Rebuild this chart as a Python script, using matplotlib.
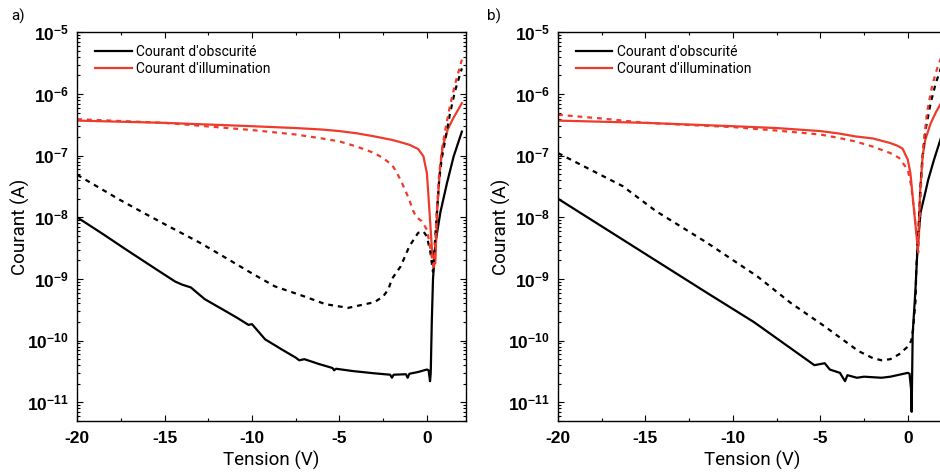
import matplotlib
matplotlib.use("Agg")
import matplotlib.pyplot as plt
from matplotlib.ticker import FixedLocator, FuncFormatter
import numpy as np

# *
# Data
# *
# panel a) - dark current, solid
va_dark   = [-20, -18.5, -17.2, -15.5, -14.4, -14.0, -13.5, -12.7, -11.5, -10.8, -10.2, -10.0, -9.25, -8.3, -7.5, -7.3,
             -7.0, -6.2, -5.4, -5.3, -5.2, -4.2, -3.0, -2.1, -2.0, -1.9,
             -1.2, -1.1, -1, -0.5, 0, 0.1, 0.18, 0.22, 0.28, 0.35, 0.5, 0.77, 1.15, 1.53, 2.0]
ia_dark   = [1.0e-8, 5.3e-9, 3.0e-9, 1.45e-9, 9.1e-10, 8.1e-10, 7.3e-10, 4.7e-10, 3.0e-10, 2.3e-10, 1.8e-10, 1.85e-10,
             1.05e-10, 7.2e-11, 5.3e-11, 4.8e-11,
             5.0e-11, 4.2e-11, 3.6e-11, 3.3e-11, 3.5e-11, 3.2e-11, 2.95e-11, 2.8e-11, 2.5e-11, 2.8e-11,
             2.85e-11, 2.5e-11, 2.9e-11, 3.1e-11, 3.4e-11, 3.3e-11, 2.2e-11, 3.0e-11, 2.0e-10, 1.0e-9, 4.0e-9, 1.2e-8,
             3.6e-8, 9.7e-8, 2.45e-7]
# panel a) - dark current, dashed
va_dark2  = [-20, -17.6, -16, -14.4, -13, -11.5, -10, -8.7, -7, -5.8, -4.5, -3.0, -2.5, -2.2, -2, -1.5, -1, -0.5,
             -0.2, 0, 0.2, 0.35, 0.5, 0.7, 0.85, 1.05, 1.3, 1.6, 2.0]
ia_dark2  = [4.9e-8, 1.95e-8, 1.1e-8, 6.3e-9, 3.9e-9, 2.2e-9, 1.23e-9, 7.6e-10, 5.2e-10, 3.9e-10, 3.4e-10, 4.2e-10,
             5.2e-10, 6.8e-10, 1.0e-9, 1.6e-9, 3.4e-9, 5.6e-9,
             5.9e-9, 4.9e-9, 2.7e-9, 1.3e-9, 6e-9, 4e-8, 9e-8, 1.8e-7, 4.5e-7, 1.1e-6, 2.6e-6]
# panel a) - illuminated current, solid
va_ill    = [-20, -15, -10, -7.5, -6, -5, -4, -3, -2, -1.5, -1, -0.5, -0.2, 0, 0.1, 0.3, 0.48, 0.6, 0.75, 0.9,
             1.2, 1.5, 2.0]
ia_ill    = [3.7e-7, 3.4e-7, 3.0e-7, 2.8e-7, 2.65e-7, 2.5e-7, 2.3e-7, 2.05e-7, 1.8e-7, 1.65e-7, 1.5e-7, 1.28e-7,
             9.8e-8, 5.2e-8, 2.0e-8, 2.7e-9, 1.8e-9, 1.5e-8, 6e-8, 1.4e-7, 2.7e-7, 4.0e-7, 7.1e-7]
# panel a) - illuminated current, dashed
va_ill2   = [-20, -15, -10, -7.5, -6, -5, -4, -3, -2.5, -2, -1.75, -1.5, -1.25, -1, -0.8, -0.6, -0.3, 0, 0.1,
             0.3, 0.4, 0.55, 0.7, 0.85, 1.05, 1.3, 1.6, 2.0]
ia_ill2   = [3.9e-7, 3.4e-7, 2.6e-7, 2.2e-7, 1.9e-7, 1.7e-7, 1.4e-7, 1.1e-7, 9.1e-8, 7.1e-8, 5.5e-8, 4e-8, 2.8e-8,
             1.9e-8, 1.3e-8, 1.0e-8, 8.7e-9, 6.3e-9, 4.5e-9,
             2.1e-9, 1.4e-9, 1e-8, 5e-8, 1.2e-7, 2.6e-7, 6e-7, 1.4e-6, 3.6e-6]

# panel b) - dark current, solid
vb_dark   = [-20, -11.5, -8.8, -5.34, -4.75, -4.46, -3.88, -3.59, -3.45, -2.91, -2.5, -1.5, -1, 0, 0.1, 0.2, 0.22,
             0.28, 0.44, 0.55, 0.73, 1.0, 1.16, 1.5, 2.0]
ib_dark   = [2.0e-8, 6.0e-10, 2.0e-10, 4.0e-11, 4.3e-11, 3.4e-11, 3.0e-11, 2.2e-11, 2.75e-11, 2.5e-11, 2.6e-11,
             2.5e-11, 2.6e-11, 3.0e-11, 2.9e-11, 1.5e-11, 7e-12,
             1.3e-10, 6.8e-10, 3e-9, 1.2e-8, 2.5e-8, 4e-8, 8.6e-8, 2.4e-7]
# panel b) - dark current, dashed
vb_dark2  = [-20, -16.3, -14.4, -11.5, -8.6, -6.7, -4.75, -2.83, -2, -1.5, -1, -0.5, 0, 0.2, 0.3, 0.45, 0.48,
             0.64, 0.75, 0.82, 1.0, 1.3, 1.6, 2.0]
ib_dark2  = [1.1e-7, 3.2e-8, 1.26e-8, 3.9e-9, 1.1e-9, 4.1e-10, 1.7e-10, 6.8e-11, 5.2e-11, 4.8e-11, 5.0e-11,
             6.0e-11, 8.0e-11, 1.0e-10, 1.5e-10, 4.7e-10, 1.4e-9,
             9e-9, 4e-8, 8e-8, 2.5e-7, 7e-7, 1.5e-6, 3.2e-6]
# panel b) - illuminated current, solid
vb_ill    = [-20, -15, -10, -7.5, -5, -4, -3, -2, -1, -0.6, -0.3, 0, 0.15, 0.3, 0.45, 0.58, 0.7, 0.85, 1.0,
             1.3, 1.6, 2.0]
ib_ill    = [3.7e-7, 3.4e-7, 3.0e-7, 2.8e-7, 2.5e-7, 2.3e-7, 2.05e-7, 1.9e-7, 1.6e-7, 1.45e-7, 1.3e-7, 8.6e-8,
             5.2e-8, 1.9e-8, 7e-9, 3e-9, 2.5e-8, 1e-7, 1.8e-7, 3.3e-7, 5e-7, 8e-7]
# panel b) - illuminated current, dashed
vb_ill2   = [-20, -17.5, -15, -10, -7.5, -5, -4, -3, -2, -1, -0.5, 0, 0.2, 0.4, 0.6, 0.75, 0.9, 1.1, 1.4, 1.7, 2.0]
ib_ill2   = [4.6e-7, 4.0e-7, 3.4e-7, 2.9e-7, 2.55e-7, 2.2e-7, 1.95e-7, 1.7e-7, 1.4e-7, 1.1e-7, 9.2e-8, 5.9e-8,
             3.2e-8, 1.0e-8, 2.7e-9, 3e-8, 1.5e-7, 5e-7, 1.4e-6, 2.7e-6, 4.6e-6]

panels = [
    ("a)", va_dark, ia_dark, va_dark2, ia_dark2, va_ill, ia_ill, va_ill2, ia_ill2),
    ("b)", vb_dark, ib_dark, vb_dark2, ib_dark2, vb_ill, ib_ill, vb_ill2, ib_ill2),
]

# *
# Style
# *
plt.rcParams['mathtext.fontset'] = 'custom'
plt.rcParams['mathtext.rm'] = 'Liberation Sans'
plt.rcParams['mathtext.bf'] = 'Liberation Sans:bold'
plt.rcParams['axes.unicode_minus'] = False

red = '#ee3b2b'
dash = (0, (2.2, 2.2))
ymin, ymax = 5e-12, 1e-5

major_y = [10.0 ** e for e in range(-11, -4)]
minor_y = [m * 10.0 ** e for e in range(-12, -5) for m in range(2, 10) if ymin <= m * 10.0 ** e <= ymax]

def exp_fmt(y, pos):
    e = int(round(np.log10(y)))
    return r'$\mathbf{10^{%d}}$' % e

fig = plt.figure(figsize=(9.4, 4.75), dpi=100)
rects = [[0.082, 0.114, 0.414, 0.818], [0.5936, 0.114, 0.414, 0.818]]
label_x = [0.012, 0.518]

for rect, lx, p in zip(rects, label_x, panels):
    tag, vd, idk, vd2, idk2, vi, ii, vi2, ii2 = p
    ax = fig.add_axes(rect)
    ax.semilogy(vd, idk, color='black', lw=1.6, label="Courant d'obscurité")
    ax.semilogy(vi, ii, color=red, lw=1.6, label="Courant d'illumination")
    ax.semilogy(vd2, idk2, color='black', lw=1.6, ls=dash)
    ax.semilogy(vi2, ii2, color=red, lw=1.6, ls=dash)

    ax.set_xlim(-20, 2.25)
    ax.set_ylim(ymin, ymax)
    ax.xaxis.set_major_locator(FixedLocator([-20, -15, -10, -5, 0]))
    ax.xaxis.set_minor_locator(FixedLocator([-17.5, -12.5, -7.5, -2.5]))
    ax.yaxis.set_major_locator(FixedLocator(major_y))
    ax.yaxis.set_minor_locator(FixedLocator(minor_y))
    ax.yaxis.set_major_formatter(FuncFormatter(exp_fmt))
    ax.tick_params(which='both', direction='in', top=True, right=True, width=0.8)
    ax.tick_params(which='major', length=4.5, labelsize=12.5)
    ax.tick_params(which='minor', length=2.5)
    ax.tick_params(axis='y', pad=6)
    ax.tick_params(axis='x', pad=7)
    for t in ax.get_xticklabels():
        t.set_fontfamily('Liberation Sans')
        t.set_fontweight('bold')
    for s in ax.spines.values():
        s.set_linewidth(1.0)

    ax.set_xlabel("Tension (V)", fontsize=13.5, family='Roboto', labelpad=4)
    ax.set_ylabel("Courant (A)", fontsize=13.5, family='Roboto', labelpad=-2)
    ax.legend(loc='upper left', bbox_to_anchor=(0.015, 1.0), frameon=False,
              prop={'family': 'Roboto', 'size': 10}, handlelength=2.6,
              handletextpad=0.3, labelspacing=0.25)
    fig.text(lx, 0.966, tag, fontsize=11, family='Roboto', va='center', ha='left')

plt.savefig("out.png", dpi=100)
